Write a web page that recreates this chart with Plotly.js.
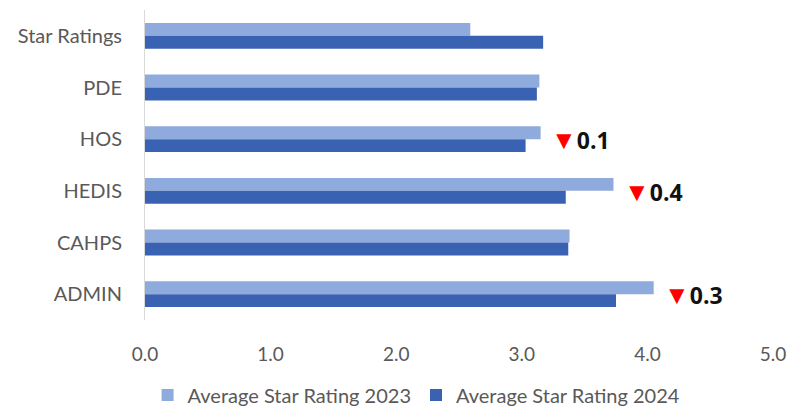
<!DOCTYPE html>
<html>
<head>
<meta charset="utf-8">
<script src="https://cdn.plot.ly/plotly-3.0.1.min.js"></script>
<style>html,body{margin:0;padding:0;background:#fff;}#chart{width:789px;height:411px;}</style>
</head>
<body>
<div id="chart"></div>
<script>
const categories = ["Star Ratings", "PDE", "HOS", "HEDIS", "CAHPS", "ADMIN"];
const rating2023 = [2.59, 3.14, 3.15, 3.73, 3.38, 4.05];
const rating2024 = [3.17, 3.12, 3.03, 3.35, 3.37, 3.75];
const changeLabels = ["", "", "0.1", "0.4", "", "0.3"];
const seriesNames = ["Average Star Rating 2023", "Average Star Rating 2024"];
const xTickVals = [0, 1, 2, 3, 4, 5];
const xTickText = ["0.0", "1.0", "2.0", "3.0", "4.0", "5.0"];

const font = "Lato, 'Open Sans', sans-serif";
const grey = "#595959";

const traces = [
  {type: "bar", orientation: "h", name: seriesNames[0], y: categories, x: rating2023,
   marker: {color: "#8faadc"}, hoverinfo: "none"},
  {type: "bar", orientation: "h", name: seriesNames[1], y: categories, x: rating2024,
   marker: {color: "#3a62b2"}, hoverinfo: "none"}
];

const annotations = [];
categories.forEach((c, i) => {
  if (changeLabels[i]) {
    annotations.push({
      x: Math.max(rating2023[i], rating2024[i]) + 0.07, y: c, xref: "x", yref: "y",
      xanchor: "left", yanchor: "middle", showarrow: false,
      text: '<span style="color:#ff0000;font-size:26px">▼</span><b>' + changeLabels[i] + '</b>',
      font: {family: "'Open Sans', sans-serif", size: 23, color: "#111"}
    });
  }
});

const layout = {
  width: 789, height: 411,
  margin: {l: 145, r: 16, t: 10, b: 91, autoexpand: false},
  paper_bgcolor: "#fff", plot_bgcolor: "#fff",
  barmode: "group", bargap: 0.5, bargroupgap: 0,
  font: {family: font, color: grey, size: 16},
  xaxis: {range: [0, 5], tickvals: xTickVals, ticktext: xTickText, showgrid: false,
          zeroline: false, showline: false, ticks: "outside", ticklen: 17, tickcolor: "rgba(0,0,0,0)",
          tickfont: {family: font, size: 19, color: grey}, fixedrange: true, automargin: false},
  yaxis: {autorange: "reversed", showline: true, linecolor: "#d9d9d9", linewidth: 1,
          showgrid: false, zeroline: false, ticks: "outside", ticklen: 18, tickcolor: "rgba(0,0,0,0)",
          tickfont: {family: font, size: 20, color: grey}, fixedrange: true, automargin: false},
  showlegend: true,
  legend: {orientation: "h", xref: "container", yref: "container", x: 0.528, xanchor: "center",
           y: 0.039, yanchor: "middle",
           font: {family: font, size: 20, color: grey}, itemwidth: 30, traceorder: "normal"},
  annotations: annotations
};

Plotly.newPlot("chart", traces, layout, {displayModeBar: false, staticPlot: true});
</script>
</body>
</html>
